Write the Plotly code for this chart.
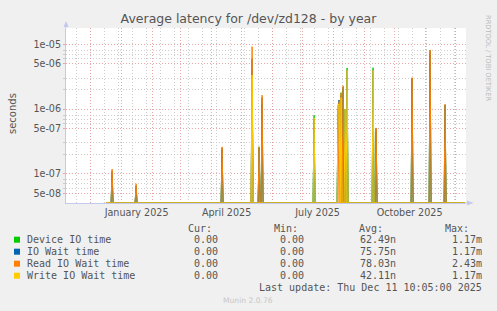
import numpy as np
import pandas as pd
import plotly.graph_objects as go

# ---------------- data ----------------
start_time = "2024-11-06 10:05"
end_time = "2025-12-11 10:05"
data_first_day = "2024-12-16"
data_last_day = "2025-12-10"

spike_days = ["2024-12-22", "2025-01-15", "2025-04-11", "2025-05-11", "2025-05-18",
              "2025-05-21", "2025-07-12", "2025-08-05", "2025-08-06", "2025-08-08",
              "2025-08-10", "2025-08-12", "2025-08-14", "2025-09-09", "2025-09-12",
              "2025-10-18", "2025-11-05", "2025-11-20"]
device_io = [1.0e-7, 6.0e-8, 2.3e-7, 4.0e-6, 2.6e-7, 1.2e-6, 8.0e-7, 1.0e-6, 1.2e-6,
             1.79e-6, 2.0e-6, 1.0e-6, 4.3e-6, 4.35e-6, 4.5e-7, 2.9e-6, 7.0e-6, 1.15e-6]
io_wait = [1.1e-7, 6.5e-8, 2.5e-7, 6.0e-6, 2.5e-7, 1.5e-6, 7.0e-7, 1.1e-6, 1.38e-6,
           1.6e-6, 2.2e-6, 1.0e-6, 4.0e-6, 4.0e-6, 5.0e-7, 3.0e-6, 8.0e-6, 1.15e-6]
read_wait = [1.18e-7, 7.0e-8, 2.6e-7, 9.2e-6, 2.6e-7, 1.64e-6, 0, 0, 1.3e-6,
             1.75e-6, 2.29e-6, 0, 0, 0, 5.1e-7, 3.05e-6, 8.2e-6, 1.19e-6]
write_wait = [0, 0, 0, 3.35e-6, 0, 0, 7.3e-7, 1.16e-6, 1.2e-6,
              1.5e-6, 0, 1.0e-6, 4.0e-6, 4.0e-6, 0, 0, 0, 0]

series_names = ["Device IO time", "IO Wait time", "Read IO Wait time", "Write IO Wait time"]
series_colors = ["#00CC00", "#0066B3", "#FF8000", "#FFCC00"]
cur_vals = ["0.00", "0.00", "0.00", "0.00"]
min_vals = ["0.00", "0.00", "0.00", "0.00"]
avg_vals = ["62.49n", "75.75n", "78.03n", "42.11n"]
max_vals = ["1.17m", "1.17m", "2.43m", "1.17m"]

y_major = [5e-8, 1e-7, 5e-7, 1e-6, 5e-6, 1e-5]
y_major_text = ["5e-08", "1e-07", "5e-07", "1e-06", "5e-06", "1e-05"]
y_minor_mult = [2, 3, 6, 7, 8]
x_label_dates = ["2025-01-16", "2025-04-16", "2025-07-16", "2025-10-16"]
x_label_text = ["January 2025", "April 2025", "July 2025", "October 2025"]

title_text = "Average latency for /dev/zd128 - by year"
last_update = "Last update: Thu Dec 11 10:05:00 2025"
munin_version = "Munin 2.0.76"

# ---------------- layout geometry ----------------
W, H = 497, 311
PL, PR, PT, PB = 66, 466, 28, 203
Y_LO, Y_HI = -7.453, -4.748


def px(x):
    return (x - PL) / (PR - PL)


def py(y):
    return (PB - y) / (PB - PT)


# ---------------- build daily series ----------------
days = pd.date_range(data_first_day, data_last_day, freq="D") + pd.Timedelta(hours=12)
day_index = {d.strftime("%Y-%m-%d"): i for i, d in enumerate(days)}
floor = 10 ** Y_LO

fig = go.Figure()
for name, color, vals in zip(series_names, series_colors,
                             [device_io, io_wait, read_wait, write_wait]):
    arr = np.zeros(len(days))
    for d, v in zip(spike_days, vals):
        arr[day_index[d]] = v
    arr = np.maximum(arr, floor)
    fig.add_trace(go.Scatter(x=days, y=arr, mode="lines", name=name,
                             line=dict(color=color, width=1), showlegend=False,
                             hoverinfo="skip"))

# dummy trace for overlay axis
fig.add_trace(go.Scatter(x=[start_time, end_time], y=[floor, floor], xaxis="x2",
                         mode="lines", line=dict(width=0), showlegend=False,
                         hoverinfo="skip"))

# grid positions
month_starts = pd.date_range("2024-12-01", "2025-12-01", freq="MS")
biweekly = pd.date_range("2024-11-17", "2025-12-10", freq="14D")
minor_y = []
for e in range(-8, -4):
    for m in y_minor_mult:
        v = m * 10.0 ** e
        if Y_LO <= np.log10(v) <= Y_HI:
            minor_y.append(v)

RED = "rgba(230,150,150,0.85)"
GREY = "rgba(200,200,200,0.9)"
DASH = "1px,2px"
AXIS = "#c4c8ec"
TXT = "#555555"

fig.update_layout(
    width=W, height=H,
    margin=dict(l=PL, r=W - PR, t=PT, b=H - PB, pad=0),
    paper_bgcolor="#F0F0F0", plot_bgcolor="#FFFFFF",
    title=dict(text=title_text, x=0.5, xanchor="center", y=1 - 19 / H, yanchor="middle",
               font=dict(family="DejaVu Sans", size=12.5, color=TXT)),
    xaxis=dict(type="date", range=[start_time, end_time],
               tickmode="array", tickvals=x_label_dates, ticktext=x_label_text,
               showgrid=False, zeroline=False, showline=True, linecolor=AXIS, linewidth=1,
               ticks="", tickfont=dict(family="DejaVu Sans", size=9.6, color=TXT),
               minor=dict(tickmode="array", tickvals=list(biweekly), showgrid=True,
                          gridcolor=GREY, griddash=DASH, gridwidth=1, ticks="")),
    xaxis2=dict(type="date", range=[start_time, end_time], overlaying="x", anchor="y",
                side="bottom", tickmode="array", tickvals=list(month_starts),
                showticklabels=False, showgrid=True, gridcolor=RED, griddash=DASH,
                gridwidth=1, zeroline=False, showline=False, ticks=""),
    yaxis=dict(type="log", range=[Y_LO, Y_HI], tickmode="array", tickvals=y_major,
               ticktext=y_major_text, showgrid=True, gridcolor=RED, griddash=DASH,
               gridwidth=1, zeroline=False, showline=True, linecolor=AXIS, linewidth=1,
               ticks="outside", ticklen=2, tickcolor=RED,
               tickfont=dict(family="DejaVu Sans", size=9.6, color=TXT),
               minor=dict(tickmode="array", tickvals=minor_y, showgrid=True,
                          gridcolor=GREY, griddash=DASH, gridwidth=1,
                          ticks="outside", ticklen=2, tickcolor=GREY)),
    showlegend=False,
)

annotations = []
shapes = []


def ann(text, x, y, xanchor="left", size=10, color=TXT, family="DejaVu Sans Mono",
        angle=0):
    annotations.append(dict(text=text, x=px(x), y=py(y), xref="paper", yref="paper",
                            xanchor=xanchor, yanchor="middle", showarrow=False,
                            borderpad=0, textangle=angle,
                            font=dict(family=family, size=size, color=color)))


ann("seconds", 12, 114, xanchor="center", size=10, family="DejaVu Sans", angle=-90)

# legend header
for lab, xr in zip(["Cur:", "Min:", "Avg:", "Max:"], [212.7, 298.7, 384.3, 470]):
    ann(lab, xr, 228.3, xanchor="right")

row_y = [239.7, 251.7, 263.7, 275.7]
for i, name in enumerate(series_names):
    y = row_y[i]
    shapes.append(dict(type="rect", xref="paper", yref="paper",
                       x0=px(14), x1=px(20), y0=py(y + 3), y1=py(y - 3),
                       fillcolor=series_colors[i], line=dict(width=0)))
    ann(name, 26.3, y)
    ann(cur_vals[i], 219.3, y, xanchor="right")
    ann(min_vals[i], 305, y, xanchor="right")
    ann(avg_vals[i], 397.3, y, xanchor="right")
    ann(max_vals[i], 482.7, y, xanchor="right")

ann(last_update, 482.7, 287.3, xanchor="right")
ann(munin_version, 248, 300.3, xanchor="center", size=7.6, color="#c8c8c8",
    family="DejaVu Sans")
ann("RRDTOOL / TOBI OETIKER", 488, 58, xanchor="center", size=6.7, color="#bbbbbb",
    family="DejaVu Sans", angle=90)

# axis arrows
shapes.append(dict(type="path", xref="paper", yref="paper",
                   path=f"M {px(63.5)} {py(27)} L {px(68.5)} {py(27)} L {px(66)} {py(21)} Z",
                   fillcolor=AXIS, line=dict(width=0)))
shapes.append(dict(type="path", xref="paper", yref="paper",
                   path=f"M {px(467)} {py(200.5)} L {px(467)} {py(205.5)} L {px(473.5)} {py(203)} Z",
                   fillcolor=AXIS, line=dict(width=0)))
shapes.append(dict(type="line", xref="paper", yref="paper",
                   x0=px(66), x1=px(66), y0=py(28), y1=py(24), line=dict(color=AXIS, width=1)))
shapes.append(dict(type="line", xref="paper", yref="paper",
                   x0=px(466), x1=px(469), y0=py(203), y1=py(203), line=dict(color=AXIS, width=1)))

fig.update_layout(annotations=annotations, shapes=shapes)
fig.write_html("out.html")
